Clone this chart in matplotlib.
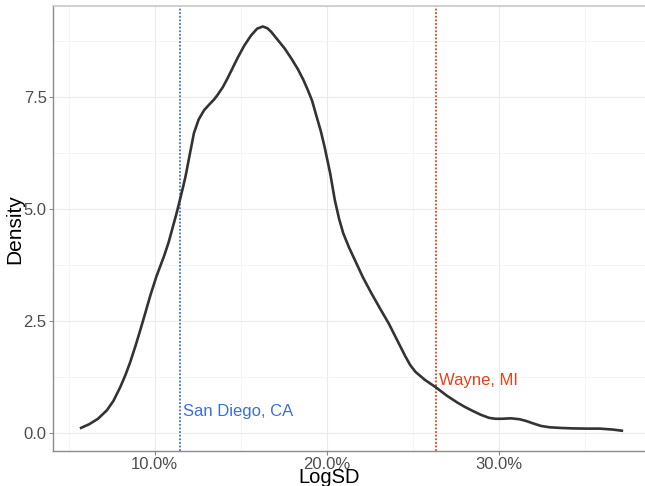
import numpy as np
import matplotlib.pyplot as plt
from matplotlib.ticker import FuncFormatter, MultipleLocator

plt.rcParams['font.family'] = ['Liberation Sans', 'DejaVu Sans']

# density curve of log standard deviation (percent)
logsd = [5.65, 6.2, 6.7, 7.22, 7.6, 8.0, 8.3, 8.58, 8.9, 9.16, 9.45, 9.75,
         10.1, 10.53, 10.8, 11.0, 11.25, 11.46, 11.65, 11.8, 12.0, 12.28,
         12.55, 12.87, 13.2, 13.45, 13.65, 13.95, 14.23, 14.5, 14.82, 15.2,
         15.6, 15.95, 16.28, 16.55, 16.77, 17.15, 17.55, 17.95, 18.33, 18.65,
         18.9, 19.15, 19.4, 19.65, 19.88, 20.2, 20.47, 20.72, 20.96, 21.3,
         21.64, 22.1, 22.6, 23.1, 23.6, 24.1, 24.56, 24.85, 25.15, 25.7,
         26.35, 27.0, 27.6, 28.0, 28.46, 28.95, 29.44, 29.8, 30.2, 30.7,
         31.2, 31.6, 31.97, 32.45, 32.95, 33.6, 34.3, 35.1, 35.87, 36.6, 37.23]
density = [0.105, 0.2, 0.32, 0.51, 0.72, 1.03, 1.3, 1.59, 1.97, 2.30, 2.68, 3.08,
           3.5, 3.94, 4.25, 4.53, 4.88, 5.2, 5.5, 5.75, 6.15, 6.70,
           7.0, 7.21, 7.35, 7.45, 7.55, 7.72, 7.92, 8.13, 8.38, 8.65,
           8.88, 9.03, 9.08, 9.04, 8.96, 8.78, 8.59, 8.36, 8.12, 7.88,
           7.66, 7.42, 7.08, 6.75, 6.38, 5.8, 5.2, 4.78, 4.46, 4.14,
           3.86, 3.48, 3.12, 2.78, 2.45, 2.07, 1.72, 1.52, 1.37, 1.19,
           1.02, 0.83, 0.68, 0.59, 0.5, 0.41, 0.34, 0.32, 0.32, 0.33,
           0.31, 0.27, 0.22, 0.16, 0.13, 0.115, 0.105, 0.10, 0.10, 0.08, 0.05]

places = ['San Diego, CA', 'Wayne, MI']
place_logsd = [11.46, 26.36]
place_colors = ['#3d6fd6', '#e2431e']
label_y = [0.49, 1.18]

fig = plt.figure(figsize=(6.45, 4.86), dpi=100)
ax = fig.add_axes([0.082, 0.072, 0.918, 0.915])

ax.plot(logsd, density, color='#333333', lw=1.9, solid_joinstyle='round',
        solid_capstyle='butt', zorder=3)

for name, x, c, ly in zip(places, place_logsd, place_colors, label_y):
    ax.axvline(x, color=c, lw=1.3, ls=(0, (1, 1)), zorder=2)
    ax.text(x + 0.17, ly, name, color=c, fontsize=12, va='center', ha='left')

ax.set_xlim(4.08, 38.5)
ax.set_ylim(-0.40, 9.53)

ax.xaxis.set_major_locator(MultipleLocator(10))
ax.xaxis.set_minor_locator(MultipleLocator(5))
ax.yaxis.set_major_locator(MultipleLocator(2.5))
ax.yaxis.set_minor_locator(MultipleLocator(1.25))
ax.xaxis.set_major_formatter(FuncFormatter(lambda v, p: f'{v:.1f}%'))
ax.yaxis.set_major_formatter(FuncFormatter(lambda v, p: f'{v:.1f}'))

ax.grid(which='major', color='#ebebeb', lw=0.8)
ax.grid(which='minor', color='#f4f4f4', lw=0.6)
ax.set_axisbelow(True)

ax.tick_params(which='major', length=3, color='#888888', labelsize=12,
               labelcolor='#4d4d4d')
ax.tick_params(axis='x', which='major', pad=1)
ax.tick_params(axis='y', which='major', pad=1.5)
ax.tick_params(which='minor', length=0)

for side in ['left', 'bottom']:
    ax.spines[side].set_color('#8c8c8c')
    ax.spines[side].set_linewidth(1.0)
ax.spines['top'].set_color('#c8c8c8')
ax.spines['top'].set_linewidth(1.2)
ax.spines['right'].set_visible(False)

ax.set_xlabel('LogSD', fontsize=14.5, va='bottom')
ax.xaxis.set_label_coords(0.466, -0.0805)
ax.set_ylabel('Density', fontsize=15, va='center')
ax.yaxis.set_label_coords(-0.065, 0.50)

fig.savefig('out.png', dpi=100)
